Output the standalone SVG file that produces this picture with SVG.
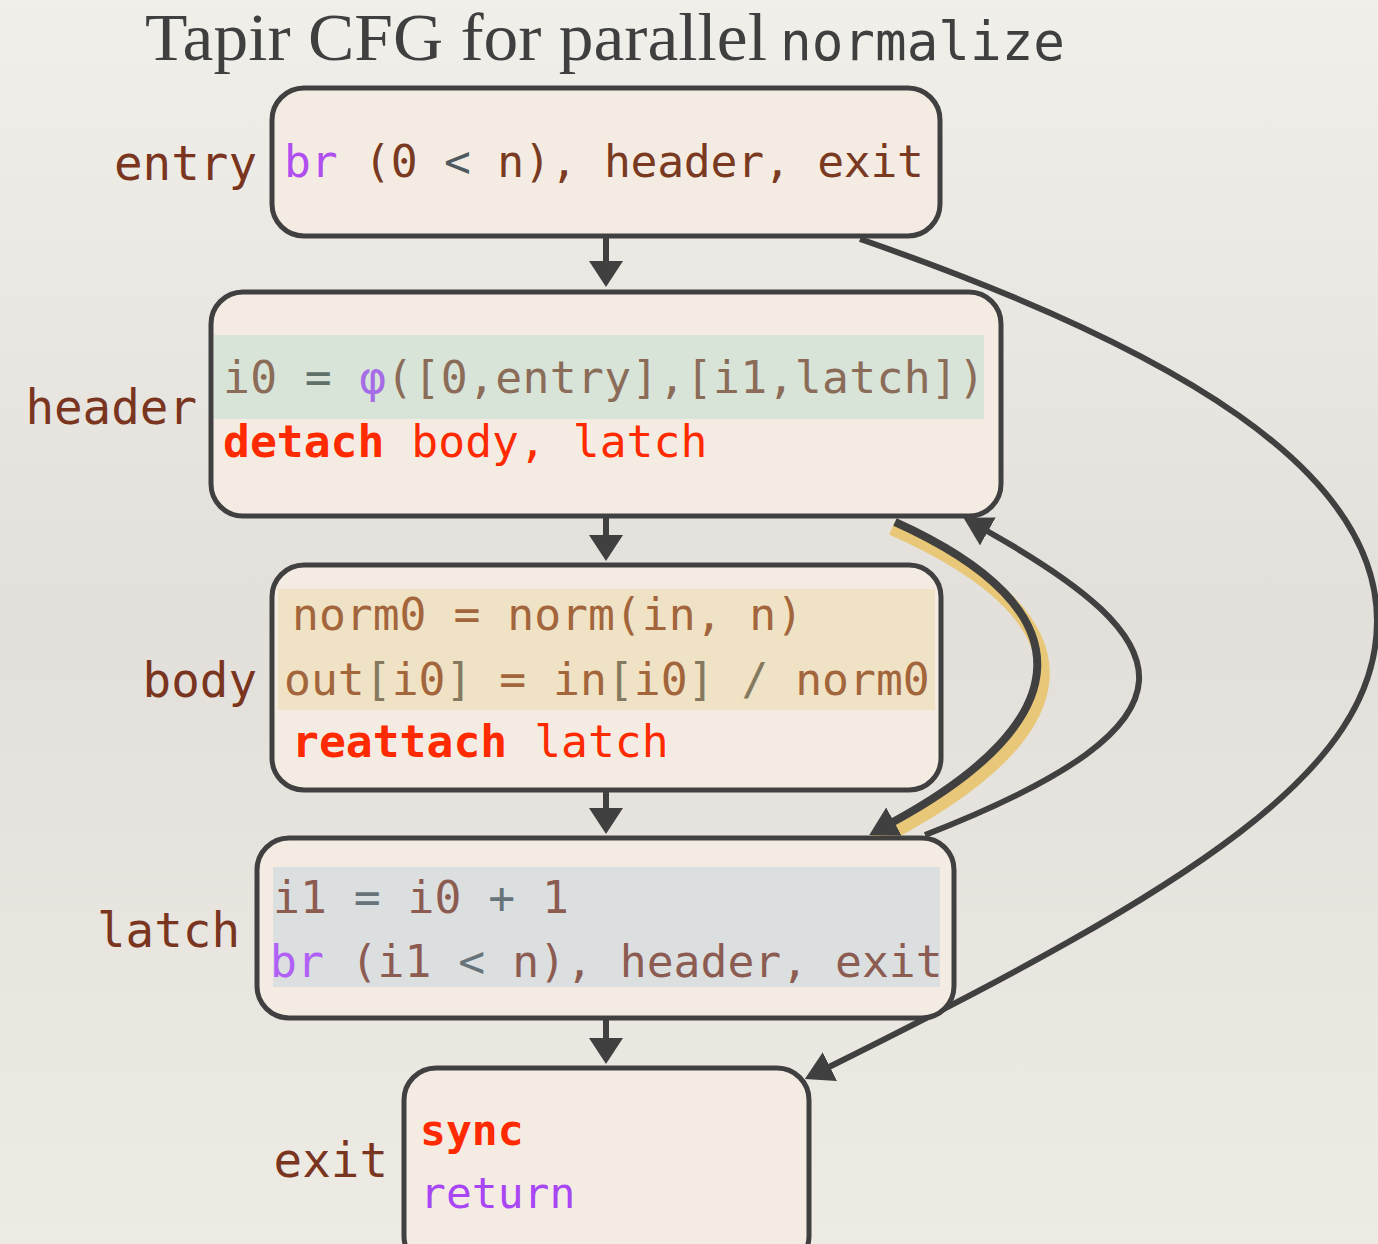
<svg xmlns="http://www.w3.org/2000/svg" width="1378" height="1244" viewBox="0 0 1378 1244">
<defs>
<linearGradient id="bg" x1="0" y1="0" x2="0" y2="1">
<stop offset="0" stop-color="#f1efea"/>
<stop offset="0.5" stop-color="#e3e0db"/>
<stop offset="1" stop-color="#eeebe5"/>
</linearGradient>
<marker id="ah" viewBox="0 0 28 32" refX="1" refY="16" markerWidth="28" markerHeight="32" markerUnits="userSpaceOnUse" orient="auto">
<path d="M0,0 L28,16 L0,32 Z" fill="#404040"/>
</marker>
<marker id="av" viewBox="0 0 26 34" refX="1" refY="17" markerWidth="26" markerHeight="34" markerUnits="userSpaceOnUse" orient="auto">
<path d="M0,0 L26,17 L0,34 Z" fill="#404040"/>
</marker>
</defs>
<style>
.box{fill:#f4ece2;stroke:#404040;stroke-width:5}
.code{font-family:"DejaVu Sans Mono","Liberation Mono",monospace;font-size:44.7px;white-space:pre}
.lbl{font-family:"DejaVu Sans Mono","Liberation Mono",monospace;font-size:47.5px;fill:#7a3520;text-anchor:end}
.b{font-weight:bold}
.red{fill:#ff2a00}
.pur{fill:#b04ef0}
.edge{fill:none;stroke:#404040;stroke-width:6}
</style>
<rect x="0" y="0" width="1378" height="1244" fill="url(#bg)"/>

<g id="title">
<text x="145" y="60" font-family="Liberation Serif,serif" font-size="68" fill="#3f3f3f" textLength="622" lengthAdjust="spacingAndGlyphs">Tapir CFG for parallel</text>
<text x="780" y="60" font-family="DejaVu Sans Mono,monospace" font-size="52.6" fill="#3f3f3f">normalize</text>
</g>

<g id="connectors">
<path class="edge" d="M606 237 V262" marker-end="url(#av)"/>
<path class="edge" d="M606 517 V536" marker-end="url(#av)"/>
<path class="edge" d="M606 790 V809" marker-end="url(#av)"/>
<path class="edge" d="M606 1018 V1039" marker-end="url(#av)"/>
<path class="edge" d="M860 239 C1180 350 1377 471 1377 621 C1377 771 1192 887 829 1067" marker-end="url(#ah)"/>
<path class="edge" d="M925 835 C1220 720 1180 640 987 531" marker-end="url(#ah)"/>
<path d="M892 528 C1101 621 1093 733 866 846" fill="none" stroke="#e8c878" stroke-width="14"/>
<path class="edge" style="stroke-width:8" d="M895 522 C1090 610 1080 720 893 822" marker-end="url(#ah)"/>
</g>

<g id="node-entry">
<rect class="box" x="272" y="88" width="668" height="148" rx="32"/>
<text class="lbl" x="257" y="180">entry</text>
<text class="code" x="284" y="177" fill="#7a3a22" textLength="640"><tspan class="pur">br</tspan> (0 <tspan fill="#4f5a60">&lt;</tspan> n), header, exit</text>
</g>

<g id="node-header">
<rect class="box" x="211" y="292" width="790" height="224" rx="32"/>
<rect x="214" y="335" width="770" height="84" fill="#d8e4d8"/>
<text class="lbl" x="197" y="424">header</text>
<text class="code" x="223" y="393" fill="#8b6c58" textLength="762"><tspan>i0 </tspan><tspan fill="#5f7168">=</tspan> <tspan fill="#a66ce6">φ</tspan>([0,entry],[i1,latch])</text>
<text class="code red" x="223" y="457"><tspan class="b">detach</tspan> body, latch</text>
</g>

<g id="node-body">
<rect class="box" x="272" y="565" width="669" height="225" rx="32"/>
<rect x="278" y="589" width="657" height="121" fill="#f0e2c4"/>
<text class="lbl" x="257" y="697">body</text>
<text class="code" x="292" y="630" fill="#a2653c">norm0 = norm(in, n)</text>
<text class="code" x="284" y="695" fill="#a2653c">out<tspan fill="#857a5f">[</tspan>i0<tspan fill="#857a5f">]</tspan> = in<tspan fill="#857a5f">[</tspan>i0<tspan fill="#857a5f">]</tspan> <tspan fill="#857a5f">/</tspan> norm0</text>
<text class="code red" x="292" y="757"><tspan class="b">reattach</tspan> latch</text>
</g>

<g id="node-latch">
<rect class="box" x="257" y="838" width="697" height="180" rx="32"/>
<rect x="273" y="867" width="667" height="120" fill="#dcdfe0"/>
<text class="lbl" x="240" y="947">latch</text>
<text class="code" x="273" y="913" fill="#8c5c52">i1 <tspan fill="#66737a">=</tspan> i0 <tspan fill="#66737a">+</tspan> 1</text>
<text class="code" x="270" y="977" fill="#8c5c52"><tspan fill="#b060f5">br</tspan> (i1 <tspan fill="#66737a">&lt;</tspan> n), header, exit</text>
</g>

<g id="node-exit">
<rect class="box" x="404" y="1068" width="405" height="200" rx="32"/>
<text class="lbl" x="388" y="1177">exit</text>
<text class="code red b" x="420" y="1145" style="font-size:43px">sync</text>
<text class="code" x="420" y="1208" style="font-size:43px" fill="#a845f5">return</text>
</g>
</svg>
